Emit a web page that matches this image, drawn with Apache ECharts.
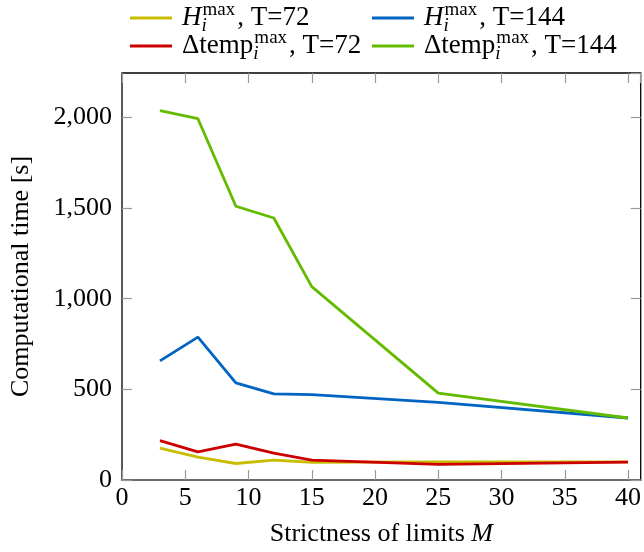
<!DOCTYPE html>
<html>
<head>
<meta charset="utf-8">
<script src="https://cdn.jsdelivr.net/npm/echarts@6/dist/echarts.min.js"></script>
<style>html,body{margin:0;padding:0;background:#fff}#c{width:644px;height:552px}</style>
</head>
<body>
<div id="c"></div>
<script>
const xValues = [3, 6, 9, 12, 15, 25, 40];
const hT72 = [176, 126, 91, 110, 98, 100, 100];
const hT144 = [657, 788, 536, 475, 471, 428, 342];
const dT72 = [217, 155, 198, 148, 110, 86, 99];
const dT144 = [2038, 1993, 1510, 1445, 1067, 479, 342];
const xTicks = [0, 5, 10, 15, 20, 25, 30, 35, 40];
const yTicks = [0, 500, 1000, 1500, 2000];

const names = ['hT72', 'hT144', 'dT72', 'dT144'];
const colors = ['#c8bd00', '#0064c2', '#cc0000', '#63bb00'];
const seriesData = [hT72, hT144, dT72, dT144];
const labels = {
  hT72: '{it|H}{sub|i}{sup|max}{n|, T=72}',
  hT144: '{it|H}{sub|i}{sup|max}{n|, T=144}',
  dT72: '{n|Δtemp}{sub|i}{sup|max}{n|, T=72}',
  dT144: '{n|Δtemp}{sub|i}{sup|max}{n|, T=144}'
};
const FONT = 'Liberation Serif';
const LH = 34;
const rich = {
  n: {fontFamily: FONT, fontSize: 27, color: '#000', lineHeight: LH, verticalAlign: 'middle'},
  it: {fontFamily: FONT, fontSize: 27, fontStyle: 'italic', color: '#000', lineHeight: LH, verticalAlign: 'middle'},
  sup: {fontFamily: FONT, fontSize: 19, color: '#000', lineHeight: LH, verticalAlign: 'top', padding: [0, 2, 0, 0]},
  sub: {fontFamily: FONT, fontSize: 19, fontStyle: 'italic', color: '#000', lineHeight: LH, verticalAlign: 'bottom', width: 1}
};
const legendPos = [[130, 1], [372, 1], [130, 29], [372, 29]];
const legends = names.map((nm, i) => ({
  data: [nm], left: legendPos[i][0], top: legendPos[i][1], padding: 0,
  icon: 'rect', itemWidth: 42, itemHeight: 3, itemGap: 0,
  formatter: n => labels[n],
  textStyle: {rich: rich, padding: [0, 0, 0, 5]},
  selectedMode: false
}));

const chart = echarts.init(document.getElementById('c'), null, {renderer: 'canvas'});
const fmtY = v => yTicks.indexOf(v) >= 0 ? v.toLocaleString('en-US') : '';
const fmtX = v => xTicks.indexOf(v) >= 0 ? String(v) : '';
const tickStyle = {show: true, inside: true, length: 10, lineStyle: {color: '#9a9a9a', width: 1.2}};
const noLine = {show: false, onZero: false};
chart.setOption({
  animation: false,
  legend: legends,
  grid: {left: 120, top: 73, right: 1, bottom: 70, show: true, borderColor: '#000', borderWidth: 1.3, containLabel: false},
  xAxis: [
    {type: 'value', min: 0, max: 41, interval: 5, position: 'bottom',
     axisLine: {show: true, onZero: false, lineStyle: {color: '#6b6b6b', width: 1.8}},
     axisTick: tickStyle, splitLine: {show: false},
     axisLabel: {formatter: fmtX, fontFamily: FONT, fontSize: 26, color: '#000', margin: 5, showMaxLabel: false},
     name: '{a|Strictness of limits }{b|M}', nameLocation: 'middle', nameGap: 41,
     nameTextStyle: {rich: {a: {fontFamily: FONT, fontSize: 26, color: '#000'}, b: {fontFamily: FONT, fontSize: 26, fontStyle: 'italic', color: '#000'}}}},
    {type: 'value', min: 0, max: 41, interval: 5, position: 'top',
     axisLine: noLine, axisTick: tickStyle, splitLine: {show: false}, axisLabel: {show: false}}
  ],
  yAxis: [
    {type: 'value', min: 0, max: 2245, interval: 500, position: 'left',
     axisLine: noLine, axisTick: tickStyle, splitLine: {show: false},
     axisLabel: {formatter: fmtY, fontFamily: FONT, fontSize: 26, color: '#000', margin: 10, showMaxLabel: false},
     name: 'Computational time [s]', nameLocation: 'middle', nameGap: 88,
     nameTextStyle: {fontFamily: FONT, fontSize: 26, color: '#000'}},
    {type: 'value', min: 0, max: 2245, interval: 500, position: 'right',
     axisLine: noLine, axisTick: tickStyle, splitLine: {show: false}, axisLabel: {show: false}}
  ],
  series: names.map((nm, i) => ({
    name: nm, type: 'line', xAxisIndex: 0, yAxisIndex: 0,
    data: xValues.map((x, j) => [x, seriesData[i][j]]),
    showSymbol: false, symbol: 'none',
    lineStyle: {color: colors[i], width: 2.8}, itemStyle: {color: colors[i]}, z: 2 + i
  }))
});
</script>
</body>
</html>
